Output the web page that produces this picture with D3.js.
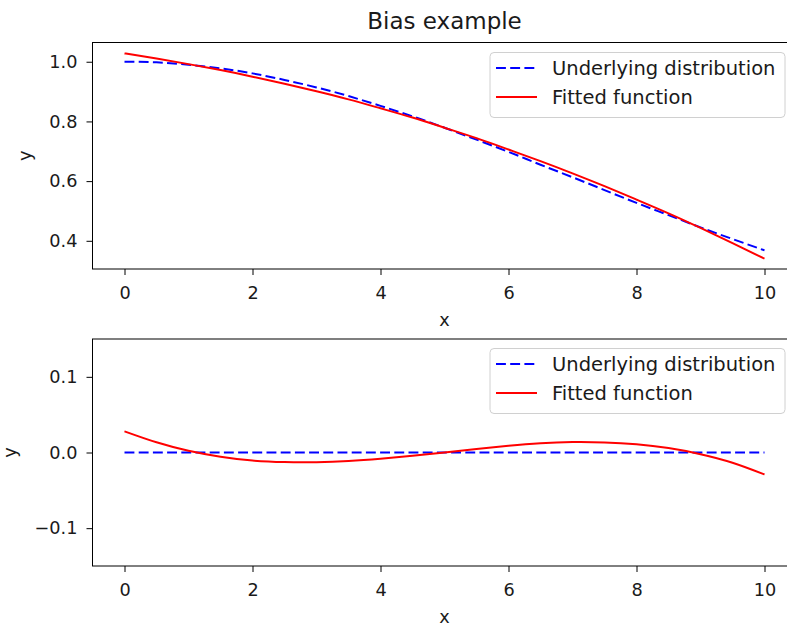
<!DOCTYPE html>
<html>
<head>
<meta charset="utf-8">
<script src="https://cdn.jsdelivr.net/npm/d3@7"></script>
<style>
  body { margin: 0; background: #fff; }
  svg { display: block; font-family: "DejaVu Sans", sans-serif; }
</style>
</head>
<body>
<div id="chart"></div>
<script>
// values
var xValues = [0, 0.5, 1, 1.5, 2, 2.5, 3, 3.5, 4, 4.5, 5, 5.5, 6, 6.5, 7, 7.5, 8, 8.5, 9, 9.5, 10];
var underlying = [1.000, 0.998, 0.990, 0.978, 0.961, 0.939, 0.914, 0.885, 0.852, 0.817, 0.779,
                  0.739, 0.698, 0.655, 0.613, 0.570, 0.527, 0.486, 0.445, 0.406, 0.368];
var fitted = [1.028, 1.011, 0.992, 0.972, 0.950, 0.926, 0.901, 0.874, 0.844, 0.813, 0.779,
              0.744, 0.706, 0.667, 0.626, 0.583, 0.538, 0.492, 0.443, 0.392, 0.340];
var biasUnderlying = [0, 0, 0, 0, 0, 0, 0, 0, 0, 0, 0, 0, 0, 0, 0, 0, 0, 0, 0, 0, 0];
var biasFitted = [0.028, 0.0135, 0.0023, -0.0056, -0.0107, -0.0127, -0.0128, -0.0113, -0.0083, -0.0044, 0,
                  0.0045, 0.0088, 0.0122, 0.0138, 0.0133, 0.0108, 0.0058, -0.0022, -0.0135, -0.029];
var xTicks = [0, 2, 4, 6, 8, 10];
var topYTicks = [0.4, 0.6, 0.8, 1.0];
var bottomYTicks = [-0.1, 0.0, 0.1];
var legendLabels = ["Underlying distribution", "Fitted function"];

var width = 787, height = 626;
var tickFont = "17.7px", legendFont = "19.5px";

var svg = d3.select("#chart")
            .append("svg")
            .attr("width", width)
            .attr("height", height);

// shared x scale (right spine falls just outside the picture)
var x = d3.scaleLinear()
          .domain([-0.5, 10.5])
          .range([92.5, 796.5]);

// title
svg.append("text")
   .attr("x", 444.5)
   .attr("y", 29)
   .style("text-anchor", "middle")
   .style("font-size", "23px")
   .style("fill", "#1a1a1a")
   .text("Bias example");

function drawPanel(top, bottom, yDomain, yTicks, series, yLabelX, legendTop) {

  var y = d3.scaleLinear()
            .domain(yDomain)
            .range([bottom, top]);

  var g = svg.append("g");

  // clip the lines to the axes area
  var clipId = "clip" + Math.round(top);
  g.append("clipPath")
   .attr("id", clipId)
   .append("rect")
     .attr("x", x.range()[0])
     .attr("y", top)
     .attr("width", x.range()[1] - x.range()[0])
     .attr("height", bottom - top);

  series.forEach(function(s) {
    g.append("path")
      .datum(xValues.map(function(v, i) { return {x: v, y: s.values[i]}; }))
      .attr("clip-path", "url(#" + clipId + ")")
      .attr("d", d3.line().curve(d3.curveNatural)
        .x(function(d) { return x(d.x); })
        .y(function(d) { return y(d.y); })
      )
      .attr("stroke", s.color)
      .style("stroke-width", 2)
      .style("stroke-dasharray", s.dash)
      .style("fill", "none");
  });

  // X axis
  var xAxis = g.append("g")
     .attr("transform", "translate(0," + bottom + ")")
     .call(d3.axisBottom(x).tickValues(xTicks).tickFormat(d3.format("d"))
           .tickSize(6).tickSizeOuter(0).tickPadding(11));

  // Y axis
  var yAxis = g.append("g")
     .attr("transform", "translate(" + x.range()[0] + ",0)")
     .call(d3.axisLeft(y).tickValues(yTicks)
           .tickFormat(function(d) { return d3.format(".1f")(d).replace("-", "\u2212"); })
           .tickSize(6).tickSizeOuter(0).tickPadding(9));

  [xAxis, yAxis].forEach(function(a) {
    a.select(".domain").remove();
    a.selectAll("line").attr("stroke", "#000").style("stroke-width", 1);
    a.selectAll("text")
     .style("font-size", tickFont)
     .style("font-family", "DejaVu Sans, sans-serif")
     .attr("fill", "#1a1a1a");
  });

  // frame (right spine sits outside the picture)
  g.append("rect")
   .attr("x", x.range()[0])
   .attr("y", top)
   .attr("width", x.range()[1] - x.range()[0])
   .attr("height", bottom - top)
   .attr("fill", "none")
   .attr("stroke", "#000")
   .style("stroke-width", 1);

  // axis labels
  g.append("text")
   .attr("x", 444.5)
   .attr("y", bottom + 57)
   .style("text-anchor", "middle")
   .style("font-size", tickFont)
   .style("fill", "#1a1a1a")
   .text("x");

  g.append("text")
   .attr("transform", "translate(" + yLabelX + "," + (top + bottom) / 2 + ") rotate(-90)")
   .style("text-anchor", "middle")
   .style("font-size", tickFont)
   .style("fill", "#1a1a1a")
   .text("y");

  // legend
  var lg = g.append("g").attr("transform", "translate(490," + legendTop + ")");
  lg.append("rect")
    .attr("width", 295)
    .attr("height", 65)
    .attr("rx", 4)
    .attr("fill", "#fff")
    .attr("fill-opacity", 0.8)
    .attr("stroke", "#d0d0d0");

  series.forEach(function(s, i) {
    var cy = 15.5 + i * 29;
    lg.append("line")
      .attr("x1", 6).attr("x2", 47)
      .attr("y1", cy).attr("y2", cy)
      .attr("stroke", s.color)
      .style("stroke-width", 2)
      .style("stroke-dasharray", s.dash);
    lg.append("text")
      .attr("x", 62)
      .attr("y", cy)
      .attr("dy", "0.35em")
      .style("font-size", legendFont)
      .style("fill", "#1a1a1a")
      .text(legendLabels[i]);
  });
}

drawPanel(42.5, 269, [0.3055, 1.0645], topYTicks, [
  {values: underlying, color: "#0000ff", dash: "9.9,4.3"},
  {values: fitted, color: "#ff0000", dash: null}
], 31, 52.5);

drawPanel(339, 566, [-0.15, 0.15], bottomYTicks, [
  {values: biasUnderlying, color: "#0000ff", dash: "9.9,4.3"},
  {values: biasFitted, color: "#ff0000", dash: null}
], 16, 348.5);
</script>
</body>
</html>
